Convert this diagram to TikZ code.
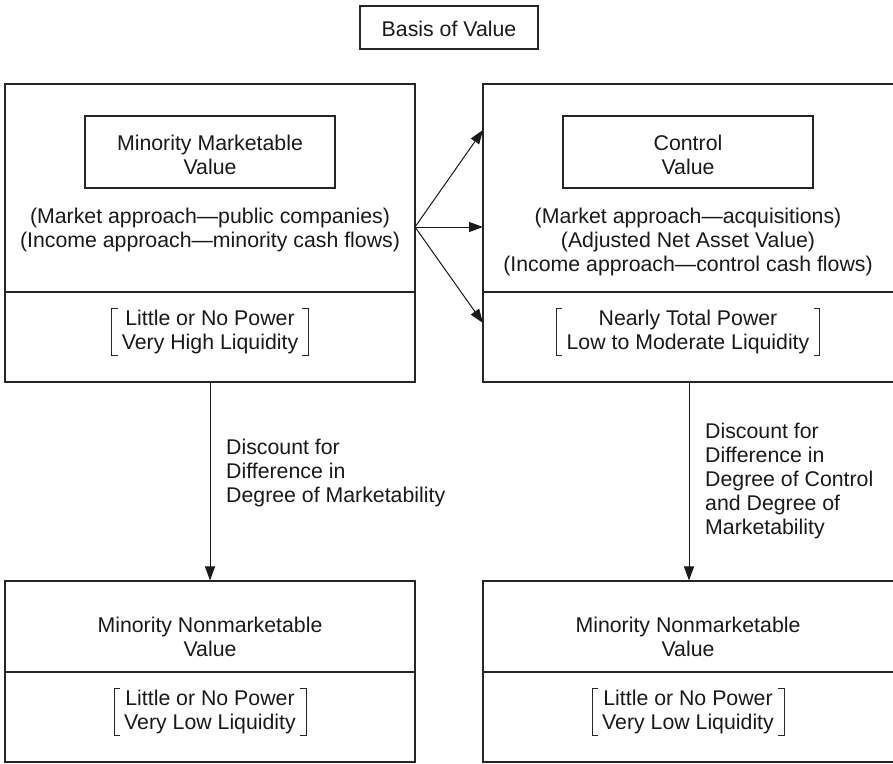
\documentclass[tikz,border=0pt]{standalone}
\usepackage{fontspec}
\setmainfont{Liberation Sans}
\usetikzlibrary{arrows.meta}

% brackets round a named node
\newcommand\bracketpair[1]{%
  \draw[bracketline] ([xshift=6pt]#1.north west) -- (#1.north west) -- (#1.south west) -- ([xshift=6pt]#1.south west);
  \draw[bracketline] ([xshift=-6pt]#1.north east) -- (#1.north east) -- (#1.south east) -- ([xshift=-6pt]#1.south east);}

\begin{document}
\begin{tikzpicture}[x=1pt,y=-1pt,
  every node/.style={font=\fontsize{21.3}{24}\selectfont, inner sep=0pt, align=center, text=black!90},
  box/.style={draw=black!85, line width=1.1pt},
  valuebox/.style={box, minimum width=250pt, minimum height=72pt},
  bracketed/.style={inner xsep=10pt, inner ysep=1.5pt},
  bracketline/.style={draw=black!85, line width=0.8pt},
  flow/.style={draw=black!90, line width=1pt, -{Triangle[length=14pt,width=10pt]}}]
\useasboundingbox (0,0) rectangle (893,763);

\node[box, minimum width=178pt, minimum height=43pt] (basis) at (449,27.5) {};
\node (basistext) at (449,28.5) {Basis of Value};

% top row
\node[box, minimum width=410pt, minimum height=298pt] (tl) at (210,233) {};
\node[box, minimum width=412pt, minimum height=298pt] (tr) at (689,233) {};
\draw[box] (tl.west |- 0,292) -- (tl.east |- 0,292);
\draw[box] (tr.west |- 0,292) -- (tr.east |- 0,292);

\node[valuebox] (mmv) at (210,152) {};
\node (mmvtext) at (210,155) {Minority Marketable\\Value};
\node (mmvapp) at (210,230) {(Market approach---public companies)\\(Income approach---minority cash flows)};
\node[bracketed] (mmvpow) at (210,332) {Little or No Power\\Very High Liquidity};
\bracketpair{mmvpow}

\node[valuebox] (ctl) at (688,152) {};
\node (ctltext) at (688,155) {Control\\Value};
\node (ctlapp) at (688,242) {(Market approach---acquisitions)\\(Adjusted Net Asset Value)\\(Income approach---control cash flows)};
\node[bracketed] (ctlpow) at (688,332) {Nearly Total Power\\Low to Moderate Liquidity};
\bracketpair{ctlpow}

% fork of arrows
\coordinate (fork) at (415,227);
\coordinate (toup) at (483,130);
\coordinate (tomid) at (483,227);
\coordinate (todown) at (483,323);
\draw[flow] (fork) -- (toup);
\draw[flow] (fork) -- (tomid);
\draw[flow] (fork) -- (todown);

% bottom row
\node[box, minimum width=410pt, minimum height=181pt] (bl) at (210,671.5) {};
\node[box, minimum width=412pt, minimum height=181pt] (br) at (689,671.5) {};
\draw[box] (bl.west |- 0,672) -- (bl.east |- 0,672);
\draw[box] (br.west |- 0,672) -- (br.east |- 0,672);

\node (lnm) at (210,637) {Minority Nonmarketable\\Value};
\node[bracketed] (lnmpow) at (210,712) {Little or No Power\\Very Low Liquidity};
\bracketpair{lnmpow}

\node (rnm) at (688,637) {Minority Nonmarketable\\Value};
\node[bracketed] (rnmpow) at (688,712) {Little or No Power\\Very Low Liquidity};
\bracketpair{rnmpow}

% discounts
\draw[flow] (tl.south) -- (bl.north);
\draw[flow] (tr.south) -- (br.north);
\node[anchor=west, align=left] (ldisc) at (226,473) {Discount for\\Difference in\\Degree of Marketability};
\node[anchor=west, align=left] (rdisc) at (705,481) {Discount for\\Difference in\\Degree of Control\\and Degree of\\Marketability};

\end{tikzpicture}
\end{document}
